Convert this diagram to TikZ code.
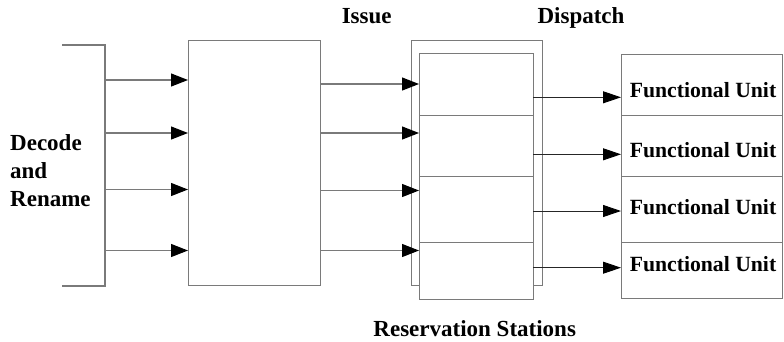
\documentclass[tikz,border=0pt]{standalone}
\usepackage{fontspec}
\setmainfont{Liberation Serif}
\usetikzlibrary{arrows.meta}
\definecolor{linegray}{HTML}{7A7A7A}
\begin{document}
\begin{tikzpicture}[x=1pt,y=-1pt,
  ln/.style={draw=linegray, line width=1.2pt},
  box/.style={ln, rectangle, inner sep=0pt, anchor=north west, fill=white},
  inarr/.style={draw=linegray, line width=1.2pt, -{Triangle[length=17pt,width=13pt,color=black,fill=black]}},
  outarr/.style={draw=black!85, line width=0.9pt, -{Triangle[length=18pt,width=12pt,color=black,fill=black]}},
  lbl/.style={font=\fontsize{23}{26}\selectfont\bfseries, inner sep=0pt, anchor=base},
  declbl/.style={font=\fontsize{23}{26}\selectfont\bfseries, inner sep=0pt, anchor=base west},
  fulbl/.style={font=\fontsize{21.7}{24}\selectfont\bfseries, inner sep=0pt, anchor=base}
]
\useasboundingbox (0,0) rectangle (784,341);

% left bracket (decode and rename)
\coordinate (brt) at (62,45);
\coordinate (brtr) at (105,45);
\coordinate (brbr) at (105,286);
\coordinate (brb) at (62,286);
\draw[ln] (brt) -- (brtr) -- (brbr) -- (brb);
\coordinate (s1) at (105,80);
\coordinate (s2) at (105,133);
\coordinate (s3) at (105,189.5);
\coordinate (s4) at (105,250.5);

\node[declbl] (dec1) at (10,150.7) {Decode};
\node[declbl] (dec2) at (10,178.3) {and};
\node[declbl] (dec3) at (10,206.7) {Rename};

% big box
\node[box, minimum width=132pt, minimum height=245pt] (big) at (188,40) {};

% reservation stations
\node[box, minimum width=131pt, minimum height=245pt] (rsout) at (411,40) {};
\node[box, minimum width=114pt, minimum height=62pt] (rs1) at (419,53) {};
\node[box, minimum width=114pt, minimum height=61pt] (rs2) at (419,115) {};
\node[box, minimum width=114pt, minimum height=66pt] (rs3) at (419,176) {};
\node[box, minimum width=114pt, minimum height=57pt] (rs4) at (419,242) {};

% functional units
\node[box, minimum width=161pt, minimum height=61pt] (fu1) at (621,54) {};
\node[box, minimum width=161pt, minimum height=61pt] (fu2) at (621,115) {};
\node[box, minimum width=161pt, minimum height=66pt] (fu3) at (621,176) {};
\node[box, minimum width=161pt, minimum height=56pt] (fu4) at (621,242) {};

\node[fulbl] (fut1) at (703,97.5) {Functional Unit};
\node[fulbl] (fut2) at (703,157.7) {Functional Unit};
\node[fulbl] (fut3) at (703,214.3) {Functional Unit};
\node[fulbl] (fut4) at (703,271) {Functional Unit};

% arrows decode -> big box
\draw[inarr] (s1) -- (s1 -| big.west);
\draw[inarr] (s2) -- (s2 -| big.west);
\draw[inarr] (s3) -- (s3 -| big.west);
\draw[inarr] (s4) -- (s4 -| big.west);

% arrows big box -> reservation stations
\coordinate (i1) at (320,84);
\coordinate (i2) at (320,133);
\coordinate (i3) at (320,190.5);
\coordinate (i4) at (320,250.5);
\draw[inarr] (i1) -- (i1 -| rs1.west);
\draw[inarr] (i2) -- (i2 -| rs2.west);
\draw[inarr] (i3) -- (i3 -| rs3.west);
\draw[inarr] (i4) -- (i4 -| rs4.west);

% dispatch arrows
\coordinate (o1) at (533,97.3);
\coordinate (o2) at (533,154.3);
\coordinate (o3) at (533,211);
\coordinate (o4) at (533,267.7);
\draw[outarr] (o1) -- (o1 -| fu1.west);
\draw[outarr] (o2) -- (o2 -| fu2.west);
\draw[outarr] (o3) -- (o3 -| fu3.west);
\draw[outarr] (o4) -- (o4 -| fu4.west);

% headings
\node[lbl] (issue) at (366.7,23.3) {Issue};
\node[lbl] (dispatch) at (581,23.3) {Dispatch};
\node[lbl] (resst) at (474.7,336.7) {Reservation Stations};
\end{tikzpicture}
\end{document}
